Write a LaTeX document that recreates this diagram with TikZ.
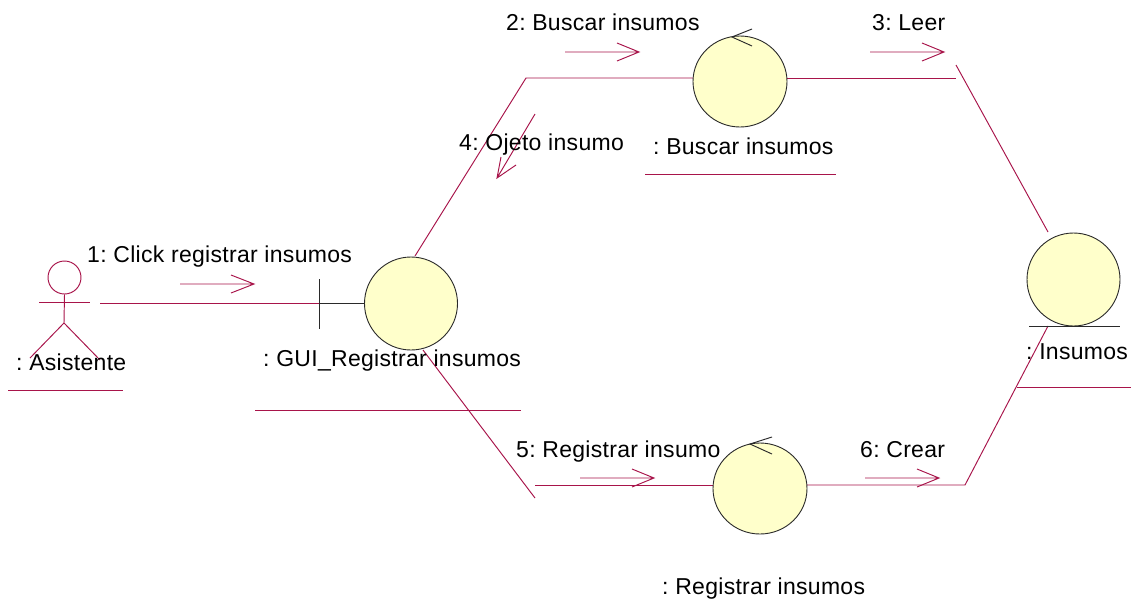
\documentclass[tikz,border=0pt]{standalone}
\usepackage{fontspec}
\usetikzlibrary{shapes.geometric}
\setmainfont[LetterSpace=1.3]{Liberation Sans}
\definecolor{rosered}{HTML}{A8144A}
\definecolor{objfill}{HTML}{FFFFCB}
\definecolor{objline}{HTML}{2A2A2A}
\tikzset{
  obj/.style={ellipse,draw=objline,fill=objfill,line width=0.9pt,inner sep=0pt,minimum width=#1,minimum height=93pt},
  objf/.style={ellipse,draw=objline,fill=objfill,line width=0.9pt,inner sep=0pt,minimum width=#1,minimum height=91pt},
  lnk/.style={draw=rosered,line width=0.95pt},
  dark/.style={draw=objline,line width=0.95pt},
  lbl/.style={anchor=base west,inner sep=0pt,font=\fontsize{23}{26}\selectfont\frenchspacing,text=black},
}
\begin{document}
\begin{tikzpicture}[x=1pt,y=-1pt]
\useasboundingbox[fill=white] (0,0) rectangle (1132,611);
% free ends of connectors
\coordinate (actEnd) at (100,303.5);
\coordinate (tick) at (319,303.5);
\coordinate (tickT) at (319,279);
\coordinate (tickB) at (319,329);
\coordinate (upStart) at (415,256);
\coordinate (upCorner) at (526,78);
\coordinate (leerEnd) at (956,78);
\coordinate (insTopA) at (956,65);
\coordinate (insTopB) at (1048,232);
\coordinate (downStart) at (423,350);
\coordinate (downEnd) at (535,498);
\coordinate (regStart) at (535,485);
\coordinate (crearCorner) at (965,485);
\coordinate (insBot) at (1048,326);
% lines under the objects first
\draw[lnk] (actEnd) -- (tick);
\draw[dark] (tick) -- (365,303.5);
\draw[dark] (tickT) -- (tickB);
\draw[lnk] (upStart) -- (upCorner) -- (693,78);
\draw[lnk] (787,78) -- (leerEnd);
\draw[lnk] (insTopA) -- (insTopB);
\draw[lnk] (downStart) -- (downEnd);
\draw[lnk] (regStart) -- (713,485);
\draw[lnk] (807,485) -- (crearCorner) -- (insBot);
% objects
\node[obj=93pt] (gui) at (411,303.5) {};
\node[objf=94pt] (bus) at (740,81.5) {};
\node[objf=94pt] (reg) at (760,488.5) {};
\node[obj=93pt] (ins) at (1073.5,279.5) {};
% control arrows
\coordinate (busTip) at (732,37);
\draw[dark] (752,29) -- (busTip) -- (752,46);
\coordinate (regTip) at (750,444);
\draw[dark] (772,437) -- (regTip) -- (772,454);
% entity underline
\coordinate (entL) at (1029,326);
\coordinate (entR) at (1120,326);
\draw[dark] (entL) -- (entR);
% actor
\node[circle,draw=rosered,line width=0.95pt,inner sep=0pt,minimum size=33pt,fill=white] (actor) at (64.5,277.5) {};
\coordinate (hip) at (64,323);
\draw[lnk] (actor.south) -- (hip);
\coordinate (armL) at (39,302);
\coordinate (armR) at (90,302);
\draw[lnk] (armL) -- (armR);
\coordinate (legL) at (30,358);
\coordinate (legR) at (100,360);
\draw[lnk] (legL) -- (hip) -- (legR);
% message arrows
\coordinate (m1a) at (180,284); \coordinate (m1b) at (254,284);
\draw[lnk] (m1a) -- (m1b) (231,275) -- (m1b) -- (231,293);
\coordinate (m2a) at (565,52); \coordinate (m2b) at (639,52);
\draw[lnk] (m2a) -- (m2b) (617,43) -- (m2b) -- (617,61);
\coordinate (m3a) at (870,52); \coordinate (m3b) at (944,52);
\draw[lnk] (m3a) -- (m3b) (922,43) -- (m3b) -- (922,61);
\coordinate (m4a) at (535,114); \coordinate (m4b) at (497,178);
\draw[lnk] (m4a) -- (m4b) (516,165) -- (m4b) -- (501,157);
\coordinate (m5a) at (580,478); \coordinate (m5b) at (654,478);
\draw[lnk] (m5a) -- (m5b) (632,469) -- (m5b) -- (632,487);
\coordinate (m6a) at (865,478); \coordinate (m6b) at (939,478);
\draw[lnk] (m6a) -- (m6b) (917,469) -- (m6b) -- (917,487);
% name underlines
\coordinate (u1a) at (8,390); \coordinate (u1b) at (123,390);
\draw[lnk] (u1a) -- (u1b);
\coordinate (u2a) at (255,410); \coordinate (u2b) at (521,410);
\draw[lnk] (u2a) -- (u2b);
\coordinate (u3a) at (645,174); \coordinate (u3b) at (836,174);
\draw[lnk] (u3a) -- (u3b);
\coordinate (u4a) at (1017,387); \coordinate (u4b) at (1131,387);
\draw[lnk] (u4a) -- (u4b);
% labels
\node[lbl] (t1) at (87,262) {1: Click registrar insumos};
\node[lbl] (t2) at (506,30) {2: Buscar insumos};
\node[lbl] (t3) at (872,30) {3: Leer};
\node[lbl] (t4) at (459,150) {4: Ojeto insumo};
\node[lbl] (t5) at (516,457) {5: Registrar insumo};
\node[lbl] (t6) at (860,457) {6: Crear};
\node[lbl] (na) at (16,370) {: Asistente};
\node[lbl] (ng) at (263,366) {: GUI\_Registrar insumos};
\node[lbl] (nb) at (653,154) {: Buscar insumos};
\node[lbl] (nr) at (662,594) {: Registrar insumos};
\node[lbl] (ni) at (1026,359) {: Insumos};
\end{tikzpicture}
\end{document}
